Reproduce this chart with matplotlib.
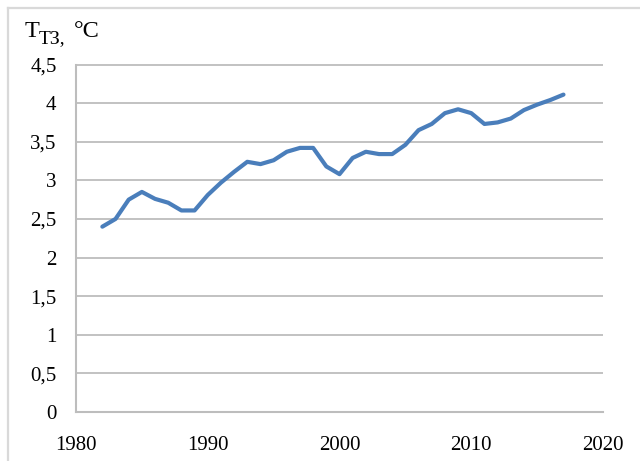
import matplotlib

matplotlib.use("Agg")
import matplotlib.pyplot as plt
from matplotlib.lines import Line2D
from matplotlib.ticker import FuncFormatter

years = list(range(1982, 2018))
temps = [2.40, 2.50, 2.75, 2.85, 2.76, 2.71, 2.61, 2.61, 2.81, 2.97,
         3.11, 3.24, 3.21, 3.26, 3.37, 3.42, 3.42, 3.18, 3.08, 3.29,
         3.37, 3.34, 3.34, 3.46, 3.65, 3.73, 3.87, 3.92, 3.87, 3.73,
         3.75, 3.80, 3.91, 3.98, 4.04, 4.11]
x_ticks = [1980, 1990, 2000, 2010, 2020]
y_ticks = [0, 0.5, 1, 1.5, 2, 2.5, 3, 3.5, 4, 4.5]

W, H = 640, 461
plt.rcParams["font.family"] = ["Liberation Serif", "DejaVu Serif"]

fig = plt.figure(figsize=(W / 100, H / 100), dpi=100)
ax = fig.add_axes([76 / W, 49 / H, 527 / W, 347.5 / H])

ax.plot(years, temps, color="#4a7ebb", lw=3.0, solid_capstyle="round",
        solid_joinstyle="round", zorder=3)

ax.set_xlim(1980, 2020)
ax.set_ylim(0, 4.5)
ax.set_xticks(x_ticks)
ax.set_yticks(y_ticks)
ax.yaxis.set_major_formatter(FuncFormatter(lambda v, _: f"{v:g}".replace(".", ",")))
ax.tick_params(length=0, labelsize=15, colors="#000000")
ax.tick_params(axis="x", pad=17)
ax.tick_params(axis="y", pad=14)
ax.grid(axis="y", color="#bdbdbd", lw=1.3, zorder=1)
for side in ("top", "right"):
    ax.spines[side].set_visible(False)
for side in ("left", "bottom"):
    ax.spines[side].set_color("#bdbdbd")
    ax.spines[side].set_linewidth(1.5)

# axis caption: T with Cyrillic subscript
fig.text(25 / W, 1 - 37.3 / H, "T", fontsize=17.5, va="baseline", ha="left")
fig.text(38.5 / W, 1 - 43.3 / H, "ТЗ,", fontsize=14, va="baseline", ha="left")
fig.text(74 / W, 1 - 37.3 / H, "°C", fontsize=17.5, va="baseline", ha="left")

# light frame around the chart
fig.add_artist(Line2D([8 / W, 8 / W], [0, 1 - 8 / H], color="#d9d9d9", lw=1.6))
fig.add_artist(Line2D([8 / W, 1], [1 - 8 / H, 1 - 8 / H], color="#d9d9d9", lw=1.6))

fig.savefig("out.png", dpi=100)
